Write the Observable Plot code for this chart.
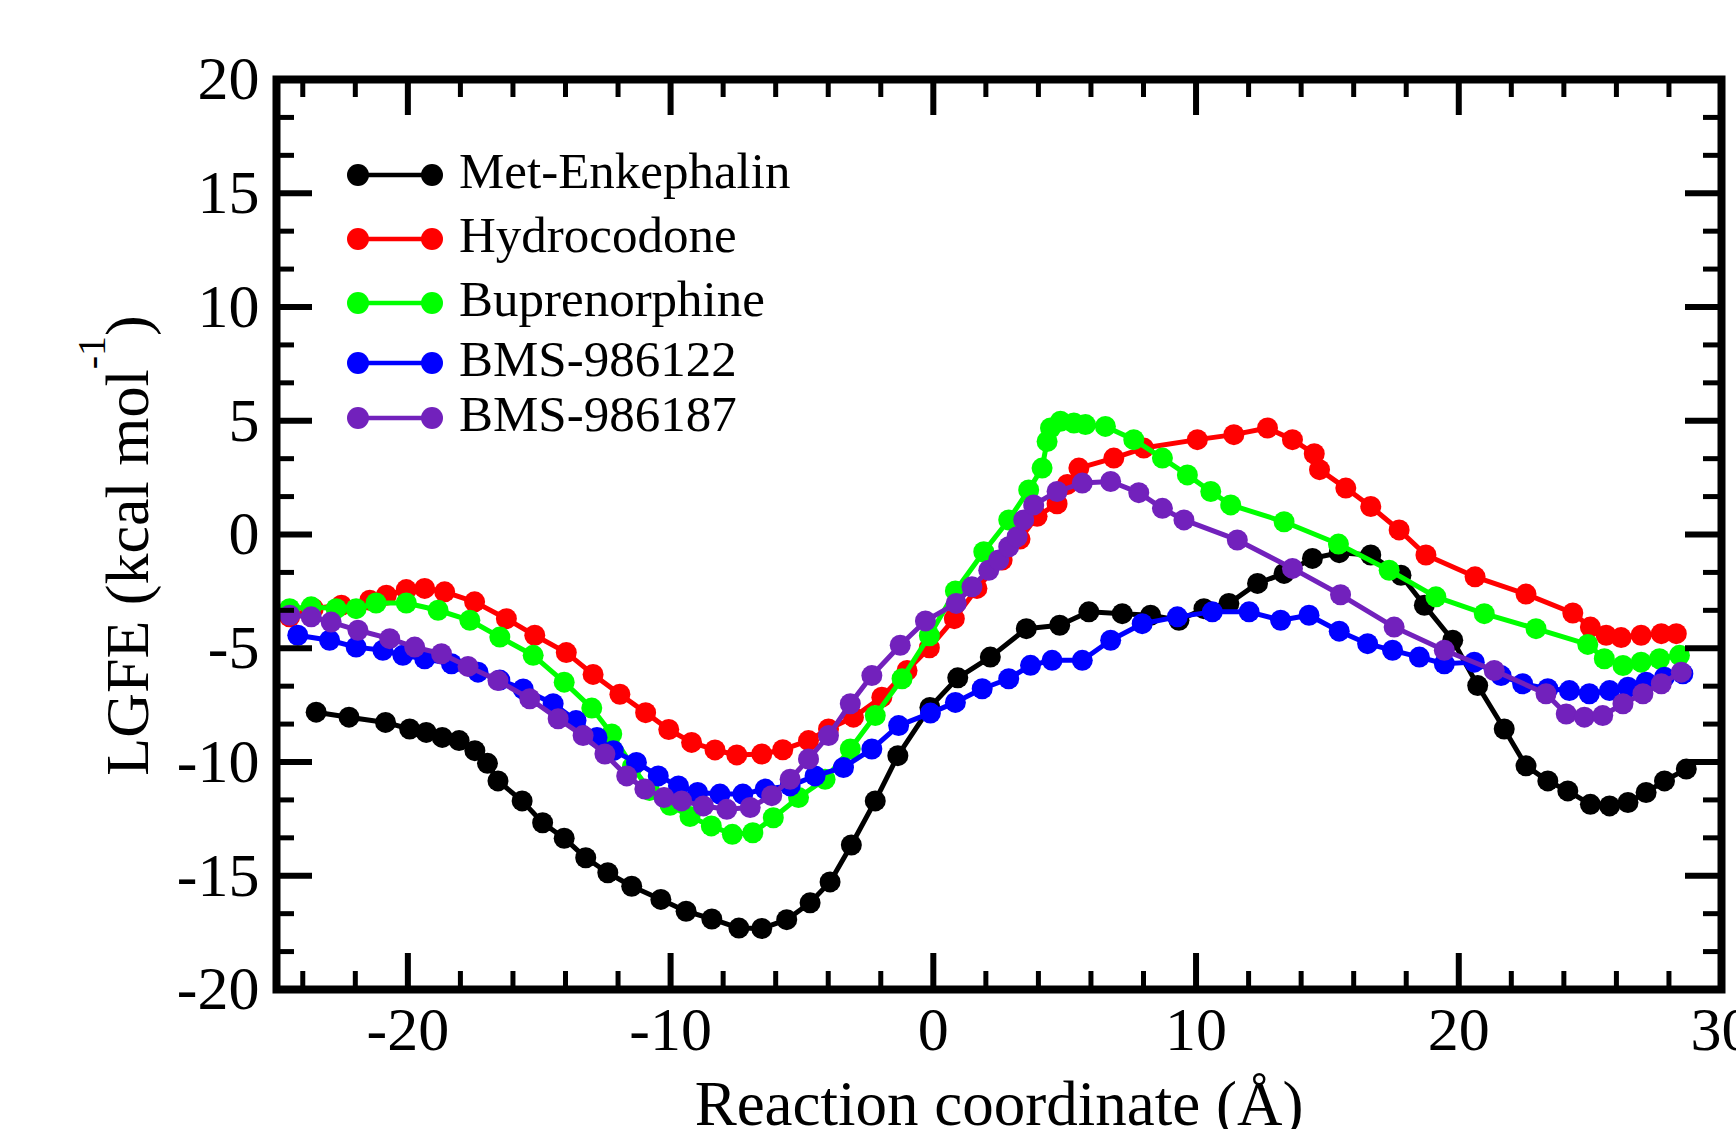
<!DOCTYPE html>
<html><head><meta charset="utf-8">
<script src="https://cdn.jsdelivr.net/npm/d3@7"></script>
<script src="https://cdn.jsdelivr.net/npm/@observablehq/plot@0.6"></script>
<style>
html,body{margin:0;padding:0;background:#fff;overflow:hidden}
#wrap{position:relative;width:1736px;height:1129px;overflow:hidden;font-family:"Liberation Serif","Times New Roman",serif;background:#fff}
#legend{position:absolute;left:347px;top:0}
.row{position:absolute;left:0;display:flex;align-items:center;height:60px}
.row span{font-size:51px;margin-left:16px;position:relative;top:-4px;line-height:1;white-space:nowrap;color:#000}
</style></head>
<body><div id="wrap"><div id="chart"></div><div id="legend"></div></div>
<script>
// ---- data ----
const seriesNames = ["Met-Enkephalin","Hydrocodone","Buprenorphine","BMS-986122","BMS-986187"];
const seriesColors = ["#000000","#ff0000","#00ff00","#0000ff","#7221bc"];

const metEnkephalin = [
 [-23.49,-7.81],[-22.24,-8.03],[-20.85,-8.26],[-19.93,-8.55],[-19.30,-8.70],[-18.69,-8.92],[-18.05,-9.06],
 [-17.45,-9.50],[-16.97,-10.06],[-16.57,-10.83],[-15.65,-11.71],[-14.87,-12.67],[-14.05,-13.35],[-13.23,-14.21],
 [-12.39,-14.87],[-11.48,-15.46],[-10.37,-16.04],[-9.41,-16.56],[-8.43,-16.90],[-7.40,-17.30],[-6.53,-17.32],
 [-5.58,-16.93],[-4.69,-16.19],[-3.93,-15.27],[-3.12,-13.65],[-2.21,-11.71],[-1.35,-9.72],[-0.13,-7.60],
 [0.93,-6.30],[2.17,-5.39],[3.54,-4.14],[4.81,-3.99],[5.92,-3.40],[7.19,-3.48],[8.27,-3.55],[9.35,-3.77],
 [10.30,-3.26],[11.25,-3.03],[12.34,-2.15],[13.35,-1.71],[14.43,-1.05],[15.45,-0.80],[16.65,-0.90],
 [17.80,-1.79],[18.69,-3.11],[19.77,-4.65],[20.72,-6.64],[21.73,-8.55],[22.56,-10.17],[23.39,-10.83],
 [24.15,-11.27],[25.01,-11.86],[25.74,-11.93],[26.44,-11.78],[27.13,-11.34],[27.83,-10.83],[28.66,-10.31]
];
const hydrocodone = [
 [-24.50,-3.62],[-23.60,-3.25],[-22.53,-3.11],[-21.45,-2.89],[-20.82,-2.67],[-20.06,-2.42],[-19.36,-2.37],
 [-18.60,-2.52],[-17.46,-2.96],[-16.25,-3.70],[-15.17,-4.43],[-13.97,-5.19],[-12.95,-6.15],[-11.93,-7.02],
 [-10.95,-7.83],[-10.07,-8.57],[-9.20,-9.14],[-8.31,-9.47],[-7.48,-9.69],[-6.53,-9.65],[-5.73,-9.46],
 [-4.75,-9.06],[-3.99,-8.55],[-3.04,-8.03],[-1.96,-7.15],[-1.00,-5.98],[-0.15,-4.98],[0.80,-3.70],
 [1.66,-2.37],[2.62,-1.12],[3.30,-0.20],[3.95,0.80],[4.71,1.35],[5.10,2.20],[5.54,2.92],[6.87,3.36],
 [8.01,3.80],[10.05,4.17],[11.44,4.39],[12.72,4.68],[13.67,4.17],[14.50,3.55],[14.70,2.85],[15.70,2.04],
 [16.65,1.23],[17.73,0.20],[18.75,-0.90],[20.62,-1.86],[22.56,-2.62],[24.34,-3.45],[25.01,-4.07],
 [25.61,-4.43],[26.18,-4.53],[26.94,-4.43],[27.71,-4.36],[28.28,-4.36]
];
const buprenorphine = [
 [-24.50,-3.26],[-23.68,-3.18],[-22.73,-3.26],[-21.97,-3.26],[-21.21,-3.01],[-20.06,-3.01],[-18.85,-3.33],
 [-17.64,-3.77],[-16.50,-4.51],[-15.23,-5.31],[-14.05,-6.49],[-13.00,-7.63],[-12.24,-8.77],[-11.45,-10.20],
 [-10.80,-11.25],[-10.02,-11.90],[-9.26,-12.40],[-8.45,-12.81],[-7.65,-13.18],[-6.87,-13.11],[-6.09,-12.45],
 [-5.13,-11.56],[-4.12,-10.76],[-3.16,-9.43],[-2.21,-7.96],[-1.19,-6.34],[-0.15,-4.45],[0.84,-2.48],
 [1.92,-0.76],[2.87,0.64],[3.63,1.96],[4.14,2.92],[4.33,4.09],[4.46,4.68],[4.84,4.98],[5.35,4.90],
 [5.79,4.83],[6.55,4.75],[7.63,4.17],[8.72,3.36],[9.67,2.62],[10.56,1.89],[11.32,1.30],[13.35,0.56],
 [15.42,-0.42],[17.35,-1.57],[19.13,-2.74],[20.97,-3.48],[22.94,-4.14],[24.91,-4.83],[25.54,-5.46],
 [26.25,-5.76],[26.94,-5.61],[27.64,-5.46],[28.40,-5.31]
];
const bms986122 = [
 [-24.19,-4.43],[-22.98,-4.65],[-21.97,-4.95],[-20.95,-5.09],[-20.19,-5.31],[-19.36,-5.46],[-18.34,-5.68],
 [-17.33,-6.05],[-16.50,-6.40],[-15.61,-6.79],[-14.47,-7.44],[-13.60,-8.18],[-12.80,-8.92],[-12.18,-9.50],
 [-11.30,-10.02],[-10.47,-10.61],[-9.70,-11.05],[-8.97,-11.34],[-8.12,-11.41],[-7.25,-11.41],[-6.40,-11.19],
 [-5.45,-11.05],[-4.50,-10.61],[-3.42,-10.24],[-2.34,-9.43],[-1.32,-8.40],[-0.11,-7.85],[0.84,-7.38],
 [1.86,-6.78],[2.87,-6.34],[3.70,-5.75],[4.52,-5.53],[5.67,-5.53],[6.75,-4.65],[7.95,-3.92],[9.29,-3.62],
 [10.62,-3.40],[12.02,-3.40],[13.22,-3.77],[14.30,-3.55],[15.45,-4.25],[16.53,-4.80],[17.48,-5.09],
 [18.50,-5.39],[19.45,-5.68],[20.59,-5.61],[21.61,-6.20],[22.43,-6.56],[23.39,-6.78],[24.21,-6.86],
 [24.97,-7.00],[25.74,-6.86],[26.44,-6.71],[27.13,-6.49],[27.83,-6.27],[28.53,-6.12]
];
const bms986187 = [
 [-24.50,-3.55],[-23.68,-3.62],[-22.92,-3.85],[-21.90,-4.21],[-20.69,-4.58],[-19.74,-4.95],[-18.72,-5.24],
 [-17.71,-5.80],[-16.57,-6.42],[-15.36,-7.22],[-14.28,-8.10],[-13.33,-8.84],[-12.50,-9.65],[-11.67,-10.61],
 [-10.98,-11.19],[-10.25,-11.56],[-9.58,-11.71],[-8.75,-11.93],[-7.86,-12.08],[-6.97,-12.00],[-6.15,-11.48],
 [-5.45,-10.76],[-4.75,-9.87],[-3.99,-8.84],[-3.16,-7.44],[-2.34,-6.20],[-1.26,-4.87],[-0.30,-3.80],
 [0.87,-3.03],[1.47,-2.30],[2.11,-1.57],[2.49,-1.12],[2.87,-0.54],[3.19,-0.10],[3.44,0.64],[3.82,1.30],
 [4.71,1.89],[5.67,2.26],[6.75,2.33],[7.82,1.84],[8.72,1.15],[9.54,0.64],[11.57,-0.24],[13.67,-1.49],
 [15.50,-2.65],[17.54,-4.07],[19.45,-5.09],[21.35,-5.98],[23.32,-7.00],[24.09,-7.89],[24.78,-8.03],
 [25.48,-7.96],[26.25,-7.44],[27.01,-7.00],[27.71,-6.56],[28.47,-6.05]
];
const allSeries = [metEnkephalin, hydrocodone, buprenorphine, bms986122, bms986187];

const xDomain = [-25, 30];
const yDomain = [-20, 20];
const xTickLabels = [-20, -10, 0, 10, 20, 30];
const yTickLabels = [-20, -15, -10, -5, 0, 5, 10, 15, 20];
const xMajorTicks = [-20, -10, 0, 10, 20];
const xMinorTicks = [-24,-22,-18,-16,-14,-12,-8,-6,-4,-2,2,4,6,8,12,14,16,18,22,24,26,28];
const yMajorTicks = [-15, -10, -5, 0, 5, 10, 15];
const yMinorTicks = d3.range(-20, 20, 5).flatMap(v => [v + 5/3, v + 10/3]);
const xLabel = "Reaction coordinate (Å)";
const yLabel = "LGFE (kcal mol";
const yLabelSup = "-1";
const yLabelEnd = ")";

// ---- layout ----
const width = 1736, height = 1129;
const mt = 79, mb = 140, ml = 276, mr = 15;
const H = height - mt - mb, W = width - ml - mr;
const majLen = 36, minLen = 18;
const legendRowCenters = [175, 239, 303, 363, 418]; // pixel layout of legend rows

const marks = [];
allSeries.forEach((s, i) => {
  marks.push(Plot.line(s, {x: d => d[0], y: d => d[1], stroke: seriesColors[i], strokeWidth: 5}));
  marks.push(Plot.dot(s, {x: d => d[0], y: d => d[1], r: 10.5, fill: seriesColors[i], stroke: "none"}));
});

const tickStyle = {stroke: "black"};
marks.push(
  Plot.tickX(xMajorTicks, {x: d => d, insetTop: H - majLen, strokeWidth: 6, ...tickStyle}),
  Plot.tickX(xMajorTicks, {x: d => d, insetBottom: H - majLen, strokeWidth: 6, ...tickStyle}),
  Plot.tickX(xMinorTicks, {x: d => d, insetTop: H - minLen, strokeWidth: 5, ...tickStyle}),
  Plot.tickX(xMinorTicks, {x: d => d, insetBottom: H - minLen, strokeWidth: 5, ...tickStyle}),
  Plot.tickY(yMajorTicks, {y: d => d, insetRight: W - majLen, strokeWidth: 6, ...tickStyle}),
  Plot.tickY(yMajorTicks, {y: d => d, insetLeft: W - majLen, strokeWidth: 6, ...tickStyle}),
  Plot.tickY(yMinorTicks, {y: d => d, insetRight: W - minLen, strokeWidth: 5, ...tickStyle}),
  Plot.tickY(yMinorTicks, {y: d => d, insetLeft: W - minLen, strokeWidth: 5, ...tickStyle}),
  Plot.frame({stroke: "black", strokeWidth: 8}),
  Plot.axisX({ticks: xTickLabels, tickSize: 0, tickPadding: 16, tickFormat: d => String(d), fontSize: 62, label: null}),
  Plot.axisY({ticks: yTickLabels, tickSize: 0, tickPadding: 17, tickFormat: d => String(d), fontSize: 62, label: null}),
  Plot.text([xLabel], {text: d => d, frameAnchor: "bottom", lineAnchor: "top", dy: 91, fontSize: 63}),
  Plot.text([yLabel + yLabelSup + yLabelEnd], {text: d => d, frameAnchor: "left", textAnchor: "middle", rotate: -90, lineAnchor: "middle", dx: -148, dy: 11, fontSize: 62})
);

const svg = Plot.plot({
  width, height,
  marginTop: mt, marginBottom: mb, marginLeft: ml, marginRight: mr,
  x: {domain: xDomain},
  y: {domain: yDomain},
  style: {fontFamily: '"Liberation Serif", "Times New Roman", serif', fontSize: "62px", color: "black", background: "white"},
  marks
});
document.getElementById("chart").appendChild(svg);

// superscript in y label
const NS = "http://www.w3.org/2000/svg";
const yl = [...svg.querySelectorAll("text")].find(t => t.textContent.startsWith("LGFE"));
if (yl) {
  yl.textContent = "";
  const t1 = document.createElementNS(NS, "tspan"); t1.textContent = yLabel;
  const t2 = document.createElementNS(NS, "tspan"); t2.textContent = yLabelSup;
  t2.setAttribute("font-size", "40"); t2.setAttribute("dy", "-43");
  const t3 = document.createElementNS(NS, "tspan"); t3.textContent = yLabelEnd;
  t3.setAttribute("dy", "43");
  yl.append(t1, t2, t3);
}

// legend
const legend = d3.select("#legend");
seriesNames.forEach((name, i) => {
  const row = legend.append("div").attr("class", "row").style("top", (legendRowCenters[i] - 30) + "px");
  const sw = row.append("svg").attr("width", 96).attr("height", 24);
  sw.append("line").attr("x1", 11).attr("x2", 85).attr("y1", 12).attr("y2", 12)
    .attr("stroke", seriesColors[i]).attr("stroke-width", 4.5);
  [11, 85].forEach(cx => sw.append("circle").attr("cx", cx).attr("cy", 12).attr("r", 11).attr("fill", seriesColors[i]));
  row.append("span").text(name);
});
</script>
</body></html>
